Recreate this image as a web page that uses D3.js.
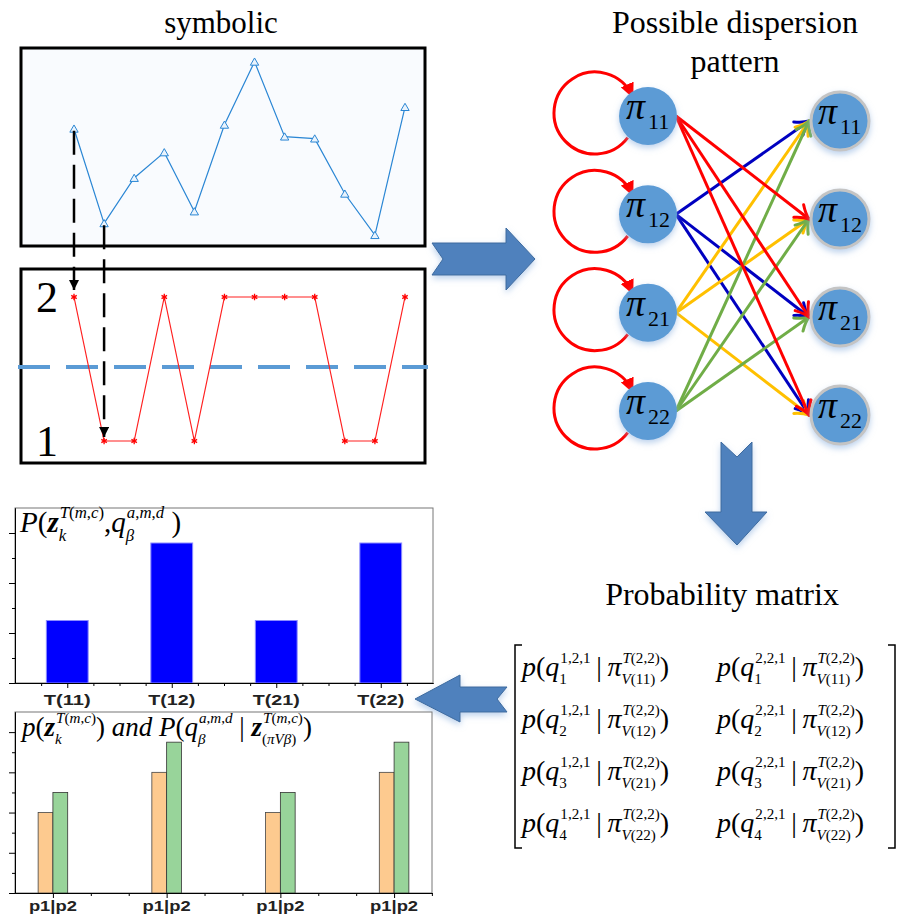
<!DOCTYPE html>
<html>
<head>
<meta charset="utf-8">
<script src="https://cdn.jsdelivr.net/npm/d3@7"></script>
<style>
  body { margin: 0; background: #fff; }
  svg { display: block; }
  .serif { font-family: "Liberation Serif", "Times New Roman", serif; }
  .sans { font-family: "Liberation Sans", Arial, sans-serif; }
</style>
</head>
<body>
<div id="chart"></div>
<script>
// ---- data ----
const symbolicValues = [5.9, 1.1, 3.4, 4.7, 1.7, 6.1, 9.3, 5.5, 5.4, 2.6, 0.5, 7.0];
const symbols = [2, 1, 1, 2, 1, 2, 2, 2, 2, 1, 1, 2];
const symbolThreshold = 1.5;

const states = ["11", "12", "21", "22"];
const stateColors = ["#ff0000", "#0000c0", "#ffc000", "#70ad47"];
const transitions = [
    ["12", "11"], ["12", "21"], ["12", "22"],
    ["21", "11"], ["21", "12"], ["21", "22"],
    ["22", "11"], ["22", "12"], ["22", "21"],
    ["11", "12"], ["11", "21"], ["11", "22"]
];

const jointLabels = ["T(11)", "T(12)", "T(21)", "T(22)"];
const jointProb = [0.125, 0.28, 0.125, 0.28];

const pairLabels = ["p1|p2", "p1|p2", "p1|p2", "p1|p2"];
const p1Values = [0.2, 0.3, 0.2, 0.3];
const p2Values = [0.25, 0.375, 0.25, 0.375];

const matrixCols = ["1,2,1", "2,2,1"];
const matrixRows = ["1", "2", "3", "4"];

// ---- helpers ----
const W = 909, H = 918;
const svg = d3.select("#chart").append("svg")
    .attr("width", W).attr("height", H)
    .attr("viewBox", `0 0 ${W} ${H}`);

const defs = svg.append("defs");

const glow = defs.append("filter").attr("id", "glow")
    .attr("x", "-50%").attr("y", "-50%").attr("width", "200%").attr("height", "200%");
glow.append("feDropShadow").attr("dx", 0).attr("dy", 3).attr("stdDeviation", 3)
    .attr("flood-color", "#8fb3e0").attr("flood-opacity", 0.6);

// letters italic, digits and punctuation upright (like an equation editor)
function styledText(sel, str, size, bold) {
    const t = sel.append("text").attr("class", "serif").attr("font-size", size)
        .style("white-space", "pre");
    str.split(/([A-Za-zβπ]+)/).filter(s => s.length).forEach(s => {
        t.append("tspan")
            .style("font-style", /[A-Za-zβπ]/.test(s) ? "italic" : "normal")
            .style("font-weight", bold ? "bold" : "normal")
            .text(s);
    });
    return t;
}

function mathRun(g, x, y, parts, size, scale = 0.6) {
    let cx = x;
    const ss = size * scale;
    parts.forEach(p => {
        if (p.t) {
            const t = styledText(g, p.t, size, p.bold).attr("x", cx).attr("y", y);
            cx += t.node().getComputedTextLength() + (p.dx || 0);
        }
        let w = 0;
        if (p.sup) {
            const t = styledText(g, p.sup, ss).attr("x", cx + 1).attr("y", y - size * 0.47);
            w = Math.max(w, t.node().getComputedTextLength() + 1);
        }
        if (p.sub) {
            const t = styledText(g, p.sub, ss).attr("x", cx).attr("y", y + size * 0.3);
            w = Math.max(w, t.node().getComputedTextLength());
        }
        cx += w;
    });
    return cx;
}

// ---- titles ----
svg.append("text").attr("class", "serif").attr("x", 221).attr("y", 33)
    .attr("font-size", 31).attr("text-anchor", "middle").text("symbolic");
svg.append("text").attr("class", "serif").attr("x", 735).attr("y", 33)
    .attr("font-size", 32).attr("text-anchor", "middle").text("Possible dispersion");
svg.append("text").attr("class", "serif").attr("x", 735).attr("y", 72)
    .attr("font-size", 32).attr("text-anchor", "middle").text("pattern");
svg.append("text").attr("class", "serif").attr("x", 722).attr("y", 605)
    .attr("font-size", 32).attr("text-anchor", "middle").text("Probability matrix");

// ---- symbolic panels ----
const symX = d3.scaleLinear().domain([0, symbolicValues.length - 1]).range([74, 405]);
const symY = d3.scaleLinear().domain([0, 10]).range([245, 48]);
const levelY = d3.scaleLinear().domain([1, 2]).range([441, 297]);

svg.append("rect").attr("x", 21).attr("y", 48).attr("width", 404).attr("height", 198)
    .attr("fill", "#f9fbfe").attr("stroke", "#000").attr("stroke-width", 3);
svg.append("rect").attr("x", 21).attr("y", 269).attr("width", 404).attr("height", 194)
    .attr("fill", "#fff").attr("stroke", "#000").attr("stroke-width", 3);

svg.append("path")
    .datum(symbolicValues)
    .attr("fill", "none").attr("stroke", "#2a86d4").attr("stroke-width", 1.2)
    .attr("d", d3.line().x((d, i) => symX(i)).y(d => symY(d)));
svg.append("g").selectAll("path").data(symbolicValues).join("path")
    .attr("transform", (d, i) => `translate(${symX(i)},${symY(d) + 1})`)
    .attr("d", d3.symbol(d3.symbolTriangle, 30))
    .attr("fill", "#eaf3fc").attr("stroke", "#2a86d4").attr("stroke-width", 1);

// threshold line between the two symbols
svg.append("line")
    .attr("x1", 18).attr("x2", 428)
    .attr("y1", levelY(symbolThreshold) - 2).attr("y2", levelY(symbolThreshold) - 2)
    .attr("stroke", "#5b9bd5").attr("stroke-width", 4).attr("stroke-dasharray", "32,16");

svg.append("path")
    .datum(symbols)
    .attr("fill", "none").attr("stroke", "#ff2020").attr("stroke-width", 1.2)
    .attr("d", d3.line().x((d, i) => symX(i)).y(d => levelY(d)));
svg.append("g").selectAll("path").data(symbols).join("path")
    .attr("transform", (d, i) => `translate(${symX(i)},${levelY(d)})`)
    .attr("d", d3.symbol(d3.symbolAsterisk, 28))
    .attr("fill", "none").attr("stroke", "#ff0000").attr("stroke-width", 1.3);

[2, 1].forEach(v => {
    svg.append("text").attr("class", "serif").attr("x", 47).attr("y", levelY(v) + 15)
        .attr("font-size", 44).attr("text-anchor", "middle").text(v);
});

// dashed mapping arrows
defs.append("marker").attr("id", "blackHead")
    .attr("viewBox", "0 -5 10 10").attr("refX", 10).attr("refY", 0)
    .attr("markerWidth", 10).attr("markerHeight", 10)
    .attr("markerUnits", "userSpaceOnUse").attr("orient", "auto")
    .append("path").attr("d", "M0,-5L10,0L0,5Z").attr("fill", "#000");

[0, 1].forEach(i => {
    svg.append("line")
        .attr("x1", symX(i)).attr("x2", symX(i))
        .attr("y1", symY(symbolicValues[i]) + 2)
        .attr("y2", levelY(symbols[i]) - (symbols[i] === 2 ? 7 : 4))
        .attr("stroke", "#000").attr("stroke-width", 2.5)
        .attr("stroke-dasharray", "24,10")
        .attr("marker-end", "url(#blackHead)");
});

// ---- block arrows ----
const arrowFill = "#4f81bd", arrowStroke = "#3c6a9e";
const blockArrows = [
    [[432, 243], [506, 243], [506, 228], [535, 259], [506, 290], [506, 275], [432, 275], [443, 259]],
    [[721, 442], [737, 457], [752, 442], [752, 512], [767, 512], [737, 545], [705, 512], [721, 512]],
    [[507, 687], [460, 687], [460, 675], [415, 699], [460, 722], [460, 712], [507, 712], [497, 699]]
];
svg.append("g").selectAll("path").data(blockArrows).join("path")
    .attr("d", d => d3.line()(d) + "Z")
    .attr("fill", arrowFill).attr("stroke", arrowStroke).attr("stroke-width", 1)
    .attr("filter", "url(#glow)");

// ---- dispersion network ----
const leftX = 648, rightX = 840, nodeR = 29;
const leftY = d3.scalePoint().domain(states).range([116, 411]);
const rightY = d3.scalePoint().domain(states).range([121, 415]);
const color = d3.scaleOrdinal().domain(states).range(stateColors);

states.forEach(s => {
    defs.append("marker").attr("id", "open" + s)
        .attr("viewBox", "-2 -10 18 20").attr("refX", 14).attr("refY", 0)
        .attr("markerWidth", 18).attr("markerHeight", 20)
        .attr("markerUnits", "userSpaceOnUse").attr("orient", "auto")
        .append("path").attr("d", "M1,-8Q8,-2 14,0Q8,2 1,8")
        .attr("fill", "none").attr("stroke", color(s)).attr("stroke-width", 3)
        .attr("stroke-linecap", "round");
});
defs.append("marker").attr("id", "loopHead")
    .attr("viewBox", "0 -7 15 14").attr("refX", 13).attr("refY", 0)
    .attr("markerWidth", 15).attr("markerHeight", 14)
    .attr("markerUnits", "userSpaceOnUse").attr("orient", "auto")
    .append("path").attr("d", "M0,-7L15,0L0,7Z").attr("fill", "#ff0000");

// self loops
const loopR = 41;
const a0 = 37 * Math.PI / 180, a1 = -24 * Math.PI / 180;
svg.append("g").selectAll("path").data(states).join("path")
    .attr("d", s => {
        const cx = leftX - 53, cy = leftY(s) - 3;
        return `M${cx + loopR * Math.cos(a0)},${cy + loopR * Math.sin(a0)}` +
            `A${loopR},${loopR} 0 1 1 ${cx + loopR * Math.cos(a1)},${cy + loopR * Math.sin(a1)}`;
    })
    .attr("fill", "none").attr("stroke", "#ff0000").attr("stroke-width", 3)
    .attr("marker-end", "url(#loopHead)");

// transitions
svg.append("g").selectAll("line").data(transitions).join("line")
    .attr("x1", leftX + nodeR - 1).attr("y1", d => leftY(d[0]))
    .attr("x2", rightX - nodeR - 2).attr("y2", d => rightY(d[1]))
    .attr("stroke", d => color(d[0])).attr("stroke-width", 3)
    .attr("marker-end", d => `url(#open${d[0]})`);

function drawNodes(x, yScale, ring) {
    const g = svg.append("g");
    g.selectAll("circle").data(states).join("circle")
        .attr("cx", x).attr("cy", s => yScale(s)).attr("r", nodeR)
        .attr("fill", "#5b9bd5")
        .attr("stroke", ring ? "#c4c4c4" : "none").attr("stroke-width", 3)
        .attr("filter", "url(#glow)");
    states.forEach(s => {
        g.append("text").attr("class", "serif").attr("x", x - 22).attr("y", yScale(s) + 3)
            .attr("font-size", 38).style("font-style", "italic").text("π");
        g.append("text").attr("class", "serif").attr("x", x).attr("y", yScale(s) + 13)
            .attr("font-size", 22).text(s);
    });
}
drawNodes(leftX, leftY, false);
drawNodes(rightX, rightY, true);

// ---- probability matrix ----
const colX = d3.scalePoint().domain(matrixCols).range([522, 717]);
const rowY = d3.scalePoint().domain(matrixRows).range([676, 832]);
const mg = svg.append("g");
matrixRows.forEach((r, i) => {
    matrixCols.forEach(c => {
        mathRun(mg, colX(c), rowY(r), [
            { t: "p(" },
            { t: "q", sup: c, sub: r },
            { t: "\u2009|\u2009" },
            { t: "π", sup: "T(2,2)", sub: "V(" + states[i] + ")" },
            { t: ")" }
        ], 28, 0.54);
    });
});
svg.append("path").attr("d", "M522,645H515V848H522")
    .attr("fill", "none").attr("stroke", "#000").attr("stroke-width", 1.5);
svg.append("path").attr("d", "M888,645H895V848H888")
    .attr("fill", "none").attr("stroke", "#000").attr("stroke-width", 1.5);

// ---- bar chart: joint probability ----
const x1 = d3.scaleLinear().domain([0.5, 4.5]).range([15, 433]);
const y1 = d3.scaleLinear().domain([0, 0.35]).range([683, 508]);
const c1 = svg.append("g");

c1.append("rect").attr("x", x1(0.5)).attr("y", y1(0.35))
    .attr("width", x1(4.5) - x1(0.5)).attr("height", y1(0) - y1(0.35))
    .attr("fill", "#fff").attr("stroke", "#777").attr("stroke-width", 1);

c1.selectAll("rect.bar").data(jointProb).join("rect").attr("class", "bar")
    .attr("x", (d, i) => x1(i + 1 - 0.2)).attr("width", x1(1.2) - x1(0.8))
    .attr("y", d => y1(d)).attr("height", d => y1(0) - y1(d))
    .attr("fill", "#0000ff").attr("stroke", "#8c8cff").attr("stroke-width", 1);

c1.append("g").attr("transform", `translate(${x1(0.5)},0)`)
    .call(d3.axisLeft(y1).tickValues([0, 0.1, 0.2, 0.3]).tickSize(6).tickSizeOuter(0).tickFormat(""));
c1.append("g").attr("transform", `translate(${x1(0.5)},0)`)
    .call(d3.axisLeft(y1).tickValues([0.05, 0.15, 0.25]).tickSize(3).tickSizeOuter(0).tickFormat(""));
c1.append("g").attr("transform", `translate(0,${y1(0)})`)
    .call(d3.axisBottom(x1).tickValues([1, 2, 3, 4]).tickSize(5).tickSizeOuter(0).tickFormat(""));
c1.append("g").attr("transform", `translate(0,${y1(0)})`)
    .call(d3.axisBottom(x1).tickValues([0.75, 1.25, 1.5, 1.75, 2.25, 2.5, 2.75, 3.25, 3.5, 3.75, 4.25])
        .tickSize(3).tickSizeOuter(0).tickFormat(""));

c1.selectAll("text.lab").data(jointLabels).join("text").attr("class", "lab sans")
    .attr("x", (d, i) => x1(i + 1)).attr("y", 705)
    .attr("text-anchor", "middle").attr("font-size", 14).attr("font-weight", "bold")
    .attr("fill", "#222")
    .attr("textLength", 47).attr("lengthAdjust", "spacingAndGlyphs")
    .text(d => d);

mathRun(c1, 20, 532, [
    { t: "P(" },
    { t: "z", bold: true, sup: "T(m,c)", sub: "k" },
    { t: ",q", sup: "a,m,d", sub: "β" },
    { t: "\u00a0)" }
], 29, 0.58);

// ---- bar chart: marginal and conditional ----
const x2 = d3.scaleLinear().domain([2 / 3, 13 / 3]).range([15, 432]);
const y2 = d3.scaleLinear().domain([0, 0.45]).range([893, 712]);
const c2 = svg.append("g");

c2.append("rect").attr("x", x2(2 / 3)).attr("y", y2(0.45))
    .attr("width", x2(13 / 3) - x2(2 / 3)).attr("height", y2(0) - y2(0.45))
    .attr("fill", "#fff").attr("stroke", "#777").attr("stroke-width", 1);

const half = 0.13;
c2.selectAll("rect.p1").data(p1Values).join("rect").attr("class", "p1")
    .attr("x", (d, i) => x2(i + 1 - half)).attr("width", x2(1) - x2(1 - half))
    .attr("y", d => y2(d)).attr("height", d => y2(0) - y2(d))
    .attr("fill", "#fdca8f").attr("stroke", "#444").attr("stroke-width", 0.8);
c2.selectAll("rect.p2").data(p2Values).join("rect").attr("class", "p2")
    .attr("x", (d, i) => x2(i + 1)).attr("width", x2(1) - x2(1 - half))
    .attr("y", d => y2(d)).attr("height", d => y2(0) - y2(d))
    .attr("fill", "#98d49a").attr("stroke", "#333").attr("stroke-width", 0.8);

c2.append("g").attr("transform", `translate(${x2(2 / 3)},0)`)
    .call(d3.axisLeft(y2).tickValues([0, 0.1, 0.2, 0.3, 0.4]).tickSize(6).tickSizeOuter(0).tickFormat(""));
c2.append("g").attr("transform", `translate(${x2(2 / 3)},0)`)
    .call(d3.axisLeft(y2).tickValues([0.05, 0.15, 0.25, 0.35]).tickSize(3).tickSizeOuter(0).tickFormat(""));
c2.append("g").attr("transform", `translate(0,${y2(0)})`)
    .call(d3.axisBottom(x2).tickValues([1, 2, 3, 4]).tickSize(5).tickSizeOuter(0).tickFormat(""));
c2.append("g").attr("transform", `translate(0,${y2(0)})`)
    .call(d3.axisBottom(x2).tickValues([4 / 3, 5 / 3, 7 / 3, 8 / 3, 10 / 3, 11 / 3, 13 / 3 - 0.001])
        .tickSize(3).tickSizeOuter(0).tickFormat(""));

c2.selectAll("text.lab").data(pairLabels).join("text").attr("class", "lab sans")
    .attr("x", (d, i) => x2(i + 1)).attr("y", 911)
    .attr("text-anchor", "middle").attr("font-size", 14).attr("font-weight", "bold")
    .attr("fill", "#222")
    .attr("textLength", 48).attr("lengthAdjust", "spacingAndGlyphs")
    .text(d => d);

mathRun(c2, 22, 736, [
    { t: "p(" },
    { t: "z", bold: true, sup: "T(m,c)", sub: "k" },
    { t: ") and P(" },
    { t: "q", sup: "a,m,d", sub: "β" },
    { t: "\u00a0|\u00a0" },
    { t: "z", bold: true, sup: "T(m,c)", sub: "(πVβ)" },
    { t: ")" }
], 27, 0.56);
</script>
</body>
</html>
